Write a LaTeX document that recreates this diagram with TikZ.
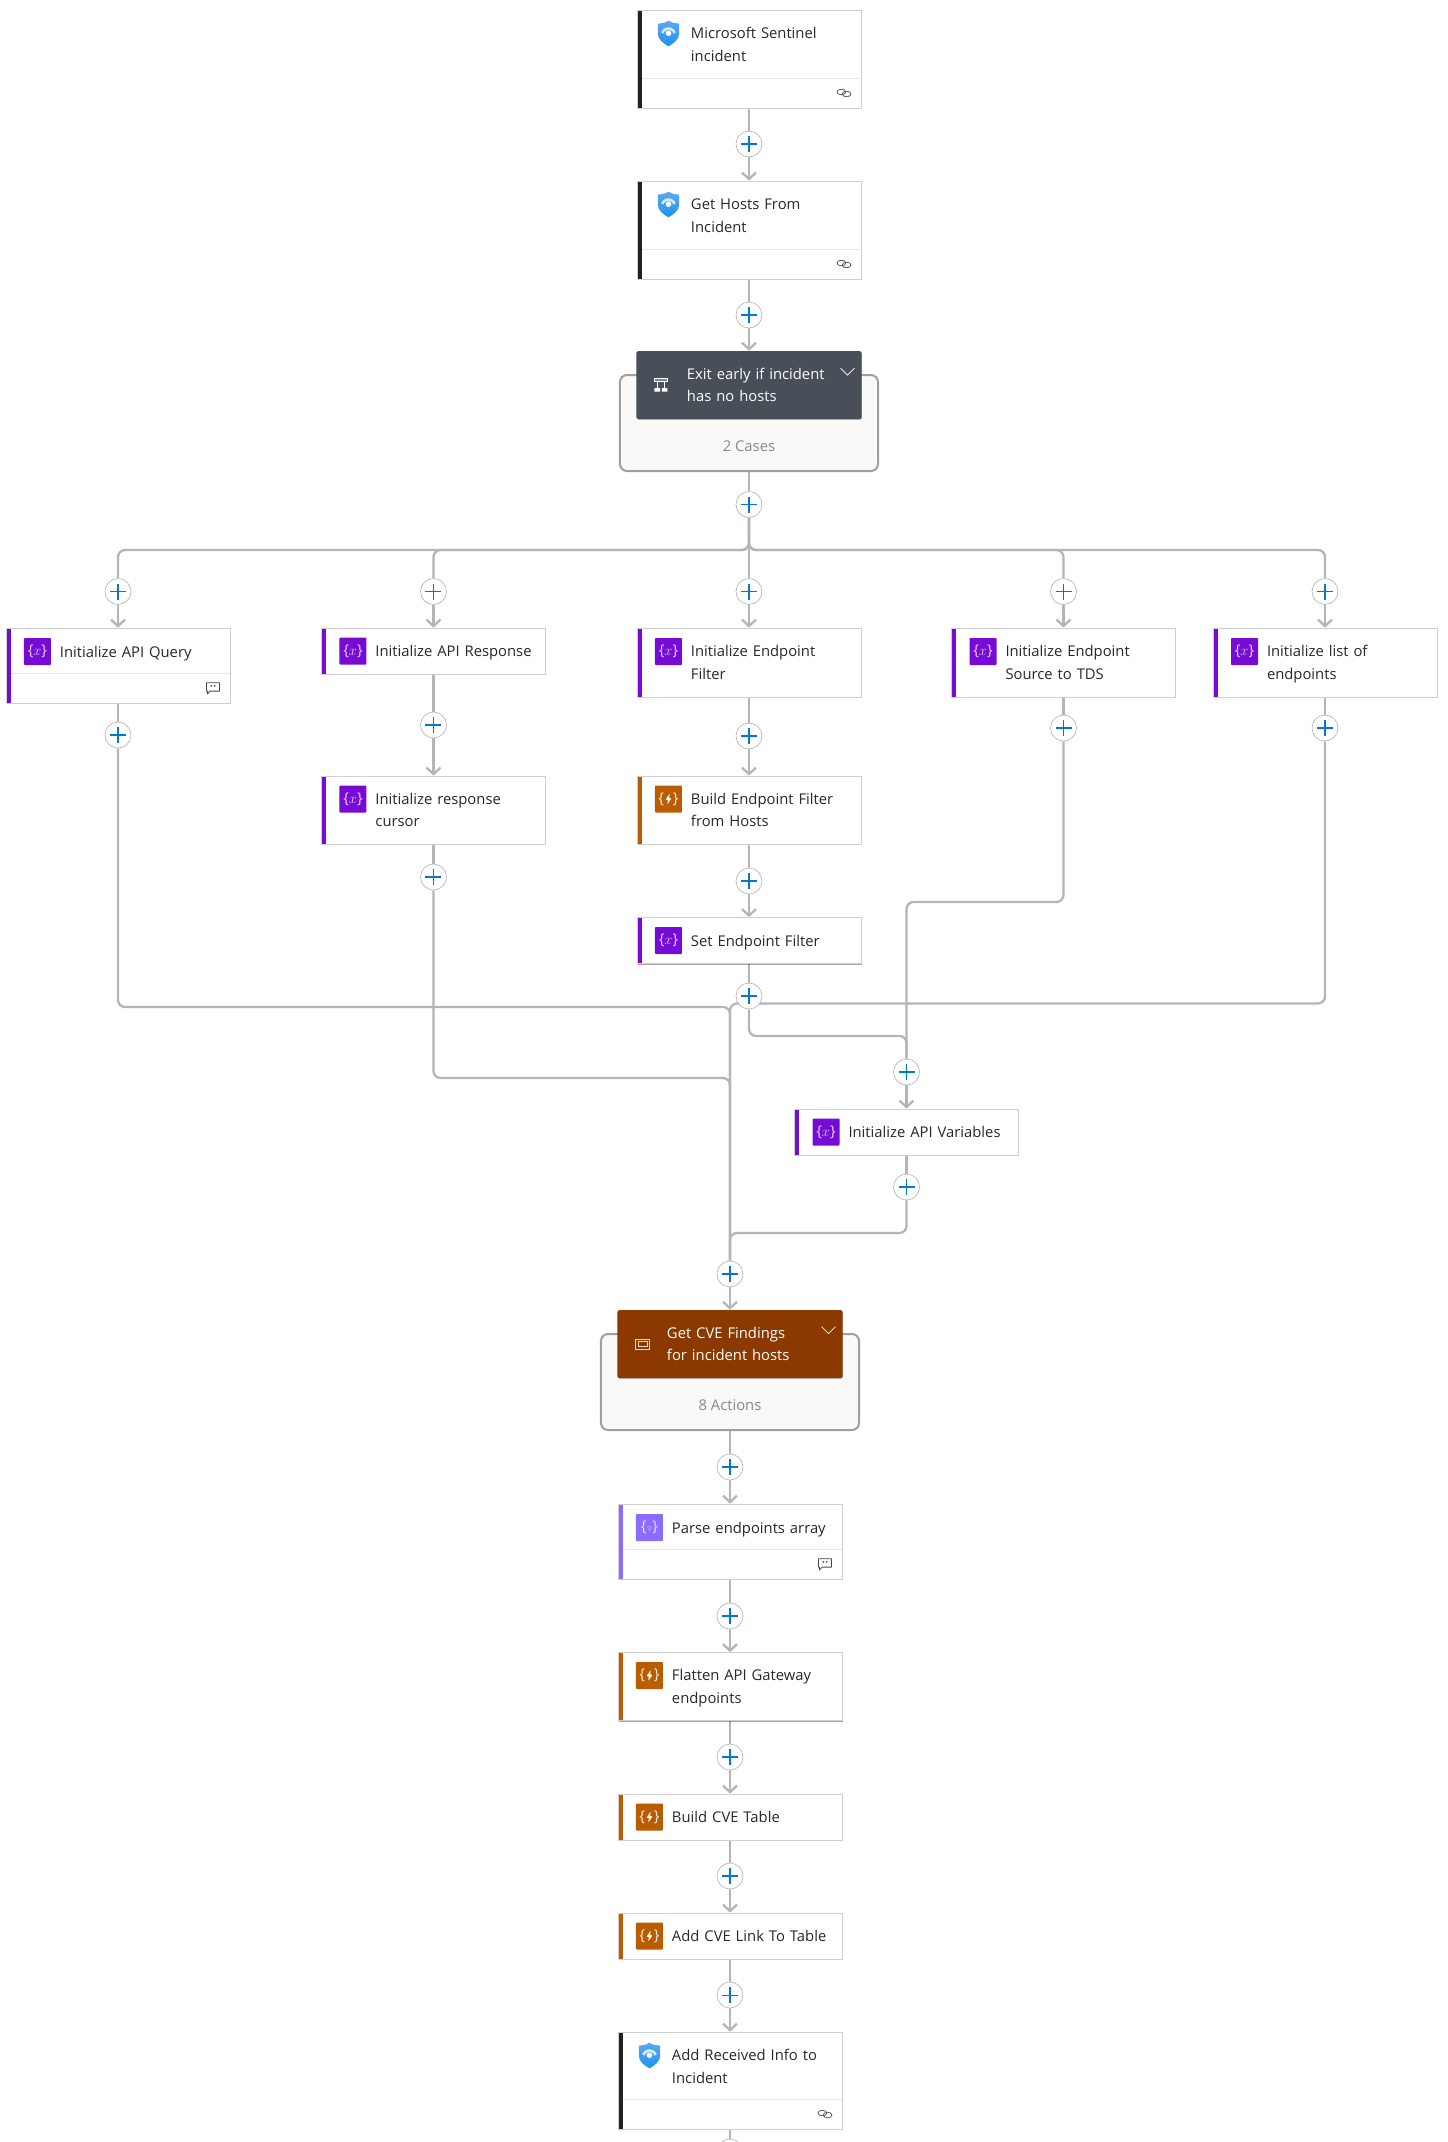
\documentclass[tikz,border=0pt]{standalone}
\usepackage{amsmath, amssymb}
\usepackage{fontspec}
\setmainfont{Open Sans}
\usepackage{xcolor}
\usepackage{tikz}
\usetikzlibrary{arrows.meta, backgrounds, shadows, positioning}
\definecolor{linegray}{HTML}{B4B4B9}
\definecolor{cardline}{HTML}{CFCFCF}
\definecolor{footline}{HTML}{E6E6E6}
\definecolor{boxgray}{HTML}{A19F9D}
\definecolor{boxfill}{HTML}{FAF9F8}
\definecolor{countgray}{HTML}{8A8886}
\definecolor{inkgray}{HTML}{292827}
\definecolor{plusblue}{HTML}{0078D4}
\definecolor{pluscirc}{HTML}{B9B9B9}
\definecolor{sentinelbar}{HTML}{222222}
\definecolor{varpurple}{HTML}{770BD6}
\definecolor{parsepurple}{HTML}{8C6CFF}
\definecolor{codeorange}{HTML}{BA5D00}
\definecolor{casedark}{HTML}{484F58}
\definecolor{scopebrown}{HTML}{8C3900}
\definecolor{shieldtop}{HTML}{5EA9EF}
\definecolor{shieldbot}{HTML}{1B93EB}
\tikzset{
    stripecard/.style = {draw=cardline, fill=white, rectangle, line width=0.7pt, minimum width=224pt,
      inner sep=0pt, node distance=0em, drop shadow={shadow xshift=0.7pt, shadow yshift=-1.1pt, opacity=0.35, fill=black},
      path picture={\fill [#1] (path picture bounding box.north west) rectangle
        ([xshift=4.8pt]path picture bounding box.south west);}},
    footcard/.style = {draw=cardline, fill=white, rectangle, line width=0.7pt, minimum width=224pt,
      inner sep=0pt, node distance=0em, drop shadow={shadow xshift=0.7pt, shadow yshift=-1.1pt, opacity=0.35, fill=black},
      path picture={\draw [footline, line width=1.2pt] ([yshift=29.5pt]path picture bounding box.south west) --
        ([yshift=29.5pt]path picture bounding box.south east);
        \fill [#1] (path picture bounding box.north west) rectangle
        ([xshift=4.8pt]path picture bounding box.south west);}},
    groupnode/.style = {draw=boxgray, fill=boxfill, rectangle, rounded corners=7pt, line width=2pt,
      minimum width=258pt, minimum height=96pt, inner sep=0pt, node distance=0em},
    headnode/.style = {fill=#1, rectangle, rounded corners=1.5pt, minimum width=225pt, minimum height=68pt,
      inner sep=0pt, node distance=0em, drop shadow={shadow xshift=0.4pt, shadow yshift=-0.8pt, opacity=0.25, fill=black}},
    textnode/.style = {draw=none, fill=none, rectangle, text=inkgray, inner sep=0pt, node distance=0em,
      text width=160pt, align=left, font=\fontsize{14.8}{22.5}\selectfont, yshift=-1.2pt,
      execute at begin node=\strut, execute at end node=\strut},
    headtext/.style = {textnode, text=white},
    countnode/.style = {draw=none, fill=none, text=countgray, inner sep=0pt, node distance=0em,
      font=\fontsize{14.8}{22.5}\selectfont},
    varnode/.style = {fill=#1, rectangle, rounded corners=0.8pt, minimum size=27pt, inner sep=0pt, node distance=0em,
      text=white!80!#1, font=\fontsize{15}{16}\selectfont},
    boltnode/.style = {fill=codeorange, rectangle, rounded corners=0.8pt, minimum size=27pt, inner sep=0pt, node distance=0em,
      text=white!88!codeorange, font=\fontsize{15}{16}\selectfont,
      path picture={\fill [white] ([shift={(1.3pt,5.5pt)}]path picture bounding box.center) --
        ([shift={(-3pt,-0.8pt)}]path picture bounding box.center) -- ([shift={(-0.4pt,-0.8pt)}]path picture bounding box.center) --
        ([shift={(-1.3pt,-5.5pt)}]path picture bounding box.center) -- ([shift={(3pt,0.8pt)}]path picture bounding box.center) --
        ([shift={(0.4pt,0.8pt)}]path picture bounding box.center) -- cycle;}},
    shieldnode/.style = {rectangle, minimum size=27pt, inner sep=0pt, node distance=0em,
      path picture={\begin{scope}[shift={(path picture bounding box.center)}, x=1pt, y=1pt]
        \shade [top color=shieldtop, bottom color=shieldbot] (0,12.8) .. controls (3.5,10.6) and (7,10) .. (10.7,9.8) --
          (10.7,0) .. controls (10.7,-6) and (5,-10) .. (0,-12.8) .. controls (-5,-10) and (-10.7,-6) .. (-10.7,0) --
          (-10.7,9.8) .. controls (-7,10) and (-3.5,10.6) .. cycle;
        \draw [white!75!shieldtop, line width=2.6pt] (-6.2,0.6) arc (160:20:6.6);
        \fill [white] (0,0.3) circle (2.8pt);
      \end{scope}}},
    switchnode/.style = {rectangle, minimum size=18pt, inner sep=0pt, node distance=0em,
      path picture={\begin{scope}[shift={(path picture bounding box.center)}, x=1pt, y=1pt, white]
        \draw [line width=0.9pt, fill=white!30!casedark] (-6.5,4) rectangle (6.5,6.5);
        \draw [line width=0.9pt] (-3.5,4) -- (-3.5,-3) (3.5,4) -- (3.5,-3);
        \fill (-6.5,-3) rectangle (-0.8,-6.5) (0.8,-3) rectangle (6.5,-6.5);
      \end{scope}}},
    scopenode/.style = {rectangle, minimum size=18pt, inner sep=0pt, node distance=0em,
      path picture={\begin{scope}[shift={(path picture bounding box.center)}, x=1pt, y=1pt]
        \draw [white!80!scopebrown, line width=0.9pt] (-6.7,-5) rectangle (6.7,5);
        \draw [white!80!scopebrown, line width=0.8pt] (-4.5,-2.6) rectangle (4.5,2.6);
      \end{scope}}},
    chevronnode/.style = {rectangle, minimum size=18pt, inner sep=0pt, node distance=0em,
      path picture={\draw [white, line width=0.7pt] ([shift={(-7pt,3.5pt)}]path picture bounding box.center) --
        ([shift={(0pt,-3.5pt)}]path picture bounding box.center) -- ([shift={(7pt,3.5pt)}]path picture bounding box.center);}},
    linknode/.style = {rectangle, minimum size=18pt, inner sep=0pt, node distance=0em,
      path picture={\begin{scope}[shift={(path picture bounding box.center)}, x=1pt, y=1pt]
        \draw [inkgray!80, line width=0.75pt, rotate=20] (-2.6,1) ellipse (4.4pt and 2.8pt);
        \draw [inkgray!80, line width=0.75pt, rotate=20] (2.6,-1) ellipse (4.4pt and 2.8pt);
      \end{scope}}},
    notenode/.style = {rectangle, minimum size=18pt, inner sep=0pt, node distance=0em,
      path picture={\begin{scope}[shift={(path picture bounding box.center)}, x=1pt, y=1pt]
        \draw [inkgray!85, line width=0.8pt, line join=round] (-6.5,4.8) -- (6.5,4.8) -- (6.5,-3.6) -- (-2.8,-3.6) --
          (-5.6,-6.4) -- (-5.6,-3.6) -- (-6.5,-3.6) -- cycle;
        \fill [inkgray!85] (-2.3,0.8) rectangle (-1,2.3) (1,0.8) rectangle (2.3,2.3);
      \end{scope}}},
    plusnode/.style = {draw=pluscirc, fill=white, circle, line width=0.7pt, minimum size=26pt, inner sep=0pt, node distance=0em,
      path picture={\draw [plusblue, line width=1.05pt] ([xshift=-8pt]path picture bounding box.center) --
        ([xshift=8pt]path picture bounding box.center) ([yshift=-8pt]path picture bounding box.center) --
        ([yshift=8pt]path picture bounding box.center);}},
    flowline/.style = {linegray, line width=2.3pt},
    bendline/.style = {flowline, rounded corners=7pt},
    connect/.style = {flowline, ->, >={Straight Barb[length=6.5pt, width=14pt]}}
}
\begin{document}
\begin{tikzpicture}[node distance=0pt]
    \useasboundingbox (-749pt,59pt) rectangle (699pt,-2083pt);

    % top of the flow
    \node [name=incident, footcard=sentinelbar, minimum height=98pt] {};
    \node [name=incidenticon, shieldnode, right of = incident, xshift=-80.5pt, yshift=25.5pt] {};
    \node [name=incidenttxt, textnode, right of = incidenticon, xshift=102.5pt, yshift=-11pt] {Microsoft Sentinel\\incident};
    \node [name=incidentlink, linknode, right of = incident, xshift=95pt, yshift=-34pt] {};
    \node [name=plusa, plusnode, below of = incident, yshift=-85pt] {};

    \node [name=hosts, footcard=sentinelbar, minimum height=98pt, below of = plusa, yshift=-86pt] {};
    \node [name=hostsicon, shieldnode, right of = hosts, xshift=-80.5pt, yshift=25.5pt] {};
    \node [name=hoststxt, textnode, right of = hostsicon, xshift=102.5pt, yshift=-11pt] {Get Hosts From\\Incident};
    \node [name=hostslink, linknode, right of = hosts, xshift=95pt, yshift=-34pt] {};
    \node [name=plusb, plusnode, below of = hosts, yshift=-85pt] {};

    \node [name=exitgroup, groupnode, below of = plusb, yshift=-108pt] {};
    \node [name=exithead, headnode=casedark, above of = exitgroup, yshift=38pt] {};
    \node [name=exiticon, switchnode, right of = exithead, xshift=-88pt] {};
    \node [name=exittxt, headtext, right of = exithead, xshift=18pt] {Exit early if incident\\has no hosts};
    \node [name=exitmore, chevronnode, right of = exithead, xshift=98.5pt, yshift=13.5pt] {};
    \node [name=exitcount, countnode, below of = exitgroup, yshift=-23pt] {2 Cases};
    \node [name=plusc, plusnode, below of = exitgroup, yshift=-81.5pt] {};
    \node [name=fork, coordinate, below of = plusc, yshift=-45.5pt] {};

    % five parallel branches
    \node [name=plusq, plusnode, below of = plusc, xshift=-631pt, yshift=-87pt] {};
    \node [name=plusr, plusnode, below of = plusc, xshift=-315.5pt, yshift=-87pt] {};
    \node [name=plusf, plusnode, below of = plusc, yshift=-87pt] {};
    \node [name=plust, plusnode, below of = plusc, xshift=314.5pt, yshift=-87pt] {};
    \node [name=plusl, plusnode, below of = plusc, xshift=576pt, yshift=-87pt] {};

    \node [name=query, footcard=varpurple, minimum height=75pt, below of = plusq, yshift=-74pt] {};
    \node [name=queryicon, varnode=varpurple, right of = query, xshift=-80.5pt, yshift=14pt] {\{$x$\}};
    \node [name=querytxt, textnode, right of = queryicon, xshift=102.5pt] {Initialize API Query};
    \node [name=querynote, notenode, right of = query, xshift=95pt, yshift=-22pt] {};
    \node [name=plusqq, plusnode, below of = query, yshift=-69.5pt] {};

    \node [name=resp, stripecard=varpurple, minimum height=46pt, below of = plusr, yshift=-59.5pt] {};
    \node [name=respicon, varnode=varpurple, right of = resp, xshift=-80.5pt] {\{$x$\}};
    \node [name=resptxt, textnode, right of = respicon, xshift=102.5pt] {Initialize API Response};
    \node [name=plusrr, plusnode, below of = resp, yshift=-74pt] {};
    \node [name=cursor, stripecard=varpurple, minimum height=68pt, below of = plusrr, yshift=-85pt] {};
    \node [name=cursoricon, varnode=varpurple, right of = cursor, xshift=-80.5pt, yshift=11pt] {\{$x$\}};
    \node [name=cursortxt, textnode, right of = cursoricon, xshift=102.5pt, yshift=-11pt] {Initialize response\\cursor};
    \node [name=pluscc, plusnode, below of = cursor, yshift=-67pt] {};

    \node [name=filter, stripecard=varpurple, minimum height=69pt, below of = plusf, yshift=-71pt] {};
    \node [name=filtericon, varnode=varpurple, right of = filter, xshift=-80.5pt, yshift=11pt] {\{$x$\}};
    \node [name=filtertxt, textnode, right of = filtericon, xshift=102.5pt, yshift=-11pt] {Initialize Endpoint\\Filter};
    \node [name=plusff, plusnode, below of = filter, yshift=-73.5pt] {};
    \node [name=buildf, stripecard=codeorange, minimum height=68pt, below of = plusff, yshift=-74pt] {};
    \node [name=buildficon, boltnode, right of = buildf, xshift=-80.5pt, yshift=11pt] {\{\hspace{9pt}\}};
    \node [name=buildftxt, textnode, right of = buildficon, xshift=102.5pt, yshift=-11pt] {Build Endpoint Filter\\from Hosts};
    \node [name=plusbf, plusnode, below of = buildf, yshift=-71pt] {};
    \node [name=setf, stripecard=varpurple, minimum height=46pt, below of = plusbf, yshift=-59.5pt] {};
    \node [name=setficon, varnode=varpurple, right of = setf, xshift=-80.5pt] {\{$x$\}};
    \node [name=setftxt, textnode, right of = setficon, xshift=102.5pt] {Set Endpoint Filter};
    \node [name=pluss, plusnode, below of = setf, yshift=-55.5pt] {};

    \node [name=tds, stripecard=varpurple, minimum height=69pt, below of = plust, yshift=-71pt] {};
    \node [name=tdsicon, varnode=varpurple, right of = tds, xshift=-80.5pt, yshift=11pt] {\{$x$\}};
    \node [name=tdstxt, textnode, right of = tdsicon, xshift=102.5pt, yshift=-11pt] {Initialize Endpoint\\Source to TDS};
    \node [name=plustt, plusnode, below of = tds, yshift=-65.5pt] {};

    \node [name=list, stripecard=varpurple, minimum height=69pt, below of = plusl, yshift=-71pt] {};
    \node [name=listicon, varnode=varpurple, right of = list, xshift=-80.5pt, yshift=11pt] {\{$x$\}};
    \node [name=listtxt, textnode, right of = listicon, xshift=102.5pt, yshift=-11pt] {Initialize list of\\endpoints};
    \node [name=plusll, plusnode, below of = list, yshift=-65.5pt] {};

    % the variables step and the bends around it
    \node [name=plusv, plusnode, below of = pluss, xshift=157.5pt, yshift=-76pt] {};
    \node [name=vars, stripecard=varpurple, minimum height=46pt, below of = plusv, yshift=-60pt] {};
    \node [name=varsicon, varnode=varpurple, right of = vars, xshift=-80.5pt] {\{$x$\}};
    \node [name=varstxt, textnode, right of = varsicon, xshift=102.5pt] {Initialize API Variables};
    \node [name=plusvv, plusnode, below of = vars, yshift=-55pt] {};

    \node [name=sfrom, coordinate, below of = pluss, yshift=-7.5pt] {};
    \node [name=sleft, coordinate, below of = pluss, xshift=-19pt, yshift=-7.5pt] {};
    \node [name=sright, coordinate, below of = pluss, xshift=576pt, yshift=-7.5pt] {};
    \node [name=qjoin, coordinate, below of = pluss, xshift=-19pt, yshift=-11pt] {};
    \node [name=cjoin, coordinate, below of = pluss, xshift=-19pt, yshift=-82pt] {};
    \node [name=vjoin, coordinate, below of = pluss, xshift=157.5pt, yshift=-40pt] {};
    \node [name=tjoin, coordinate, above of = pluss, xshift=157.5pt, yshift=94pt] {};
    \node [name=ujoin, coordinate, below of = plusvv, xshift=-176.5pt, yshift=-46pt] {};

    % loop and the steps below it
    \node [name=plusg, plusnode, below of = pluss, xshift=-19pt, yshift=-278pt] {};
    \node [name=getgroup, groupnode, below of = plusg, yshift=-108pt] {};
    \node [name=gethead, headnode=scopebrown, above of = getgroup, yshift=38pt] {};
    \node [name=geticon, scopenode, right of = gethead, xshift=-87.5pt] {};
    \node [name=gettxt, headtext, right of = gethead, xshift=17pt] {Get CVE Findings\\for incident hosts};
    \node [name=getmore, chevronnode, right of = gethead, xshift=98.5pt, yshift=14pt] {};
    \node [name=getcount, countnode, below of = getgroup, yshift=-23pt] {8 Actions};
    \node [name=plush, plusnode, below of = getgroup, yshift=-85pt] {};

    \node [name=parse, footcard=parsepurple, minimum height=75pt, below of = plush, yshift=-74.5pt] {};
    \node [name=parseicon, varnode=parsepurple, right of = parse, xshift=-80.5pt, yshift=14pt] {\{$\scriptscriptstyle\triangledown$\}};
    \node [name=parsetxt, textnode, right of = parseicon, xshift=102.5pt] {Parse endpoints array};
    \node [name=parsenote, notenode, right of = parse, xshift=95pt, yshift=-22pt] {};
    \node [name=plusp, plusnode, below of = parse, yshift=-74.5pt] {};

    \node [name=flatten, stripecard=codeorange, minimum height=68pt, below of = plusp, yshift=-70.5pt] {};
    \node [name=flattenicon, boltnode, right of = flatten, xshift=-80.5pt, yshift=11pt] {\{\hspace{9pt}\}};
    \node [name=flattentxt, textnode, right of = flattenicon, xshift=102.5pt, yshift=-11pt] {Flatten API Gateway\\endpoints};
    \node [name=plusi, plusnode, below of = flatten, yshift=-70.5pt] {};

    \node [name=buildt, stripecard=codeorange, minimum height=46pt, below of = plusi, yshift=-60pt] {};
    \node [name=buildticon, boltnode, right of = buildt, xshift=-80.5pt] {\{\hspace{9pt}\}};
    \node [name=buildttxt, textnode, right of = buildticon, xshift=102.5pt] {Build CVE Table};
    \node [name=plusj, plusnode, below of = buildt, yshift=-59pt] {};

    \node [name=addlink, stripecard=codeorange, minimum height=46pt, below of = plusj, yshift=-60pt] {};
    \node [name=addlinkicon, boltnode, right of = addlink, xshift=-80.5pt] {\{\hspace{9pt}\}};
    \node [name=addlinktxt, textnode, right of = addlinkicon, xshift=102.5pt] {Add CVE Link To Table};
    \node [name=plusk, plusnode, below of = addlink, yshift=-59pt] {};

    \node [name=received, footcard=sentinelbar, minimum height=97pt, below of = plusk, yshift=-85.5pt] {};
    \node [name=receivedicon, shieldnode, right of = received, xshift=-80.5pt, yshift=25pt] {};
    \node [name=receivedtxt, textnode, right of = receivedicon, xshift=102.5pt, yshift=-11pt] {Add Received Info to\\Incident};
    \node [name=receivedlink, linknode, right of = received, xshift=95pt, yshift=-33.5pt] {};
    \node [name=plusm, plusnode, below of = received, yshift=-71.5pt] {};

    \begin{scope}[on background layer]
        \draw [flowline] (incident) -- (plusa);
        \draw [connect] (plusa) -- (hosts);
        \draw [flowline] (hosts) -- (plusb);
        \draw [connect] (plusb) -- (exithead);
        \draw [flowline] (exitgroup) -- (plusc);

        \draw [bendline] (plusc) |- (fork -| plusq) -- (plusq);
        \draw [bendline] (plusc) |- (fork -| plusr) -- (plusr);
        \draw [flowline] (plusc) -- (plusf);
        \draw [bendline] (plusc) |- (fork -| plust) -- (plust);
        \draw [bendline] (plusc) |- (fork -| plusl) -- (plusl);

        \draw [connect] (plusq) -- (query);
        \draw [connect] (plusr) -- (resp);
        \draw [connect] (plusf) -- (filter);
        \draw [connect] (plust) -- (tds);
        \draw [connect] (plusl) -- (list);

        \draw [flowline] (query) -- (plusqq);
        \draw [flowline] (resp) -- (plusrr);
        \draw [connect] (plusrr) -- (cursor);
        \draw [flowline] (cursor) -- (pluscc);
        \draw [flowline] (filter) -- (plusff);
        \draw [connect] (plusff) -- (buildf);
        \draw [flowline] (buildf) -- (plusbf);
        \draw [connect] (plusbf) -- (setf);
        \draw [flowline] (setf) -- (pluss);
        \draw [flowline] (tds) -- (plustt);
        \draw [flowline] (list) -- (plusll);

        \draw [bendline] (plusqq) |- (qjoin) -- (plusg);
        \draw [bendline] (pluscc) |- (cjoin) -- (plusg);
        \draw [bendline] (sfrom) -- (sleft) -- (plusg);
        \draw [bendline] (sfrom) -- (sright) -- (plusll);
        \draw [bendline] (pluss) |- (vjoin) -- (plusv);
        \draw [bendline] (plustt) |- (tjoin) -- (plusv);
        \draw [connect] (plusv) -- (vars);
        \draw [flowline] (vars) -- (plusvv);
        \draw [bendline] (plusvv) |- (ujoin) -- (plusg);

        \draw [connect] (plusg) -- (gethead);
        \draw [flowline] (getgroup) -- (plush);
        \draw [connect] (plush) -- (parse);
        \draw [flowline] (parse) -- (plusp);
        \draw [connect] (plusp) -- (flatten);
        \draw [flowline] (flatten) -- (plusi);
        \draw [connect] (plusi) -- (buildt);
        \draw [flowline] (buildt) -- (plusj);
        \draw [connect] (plusj) -- (addlink);
        \draw [flowline] (addlink) -- (plusk);
        \draw [connect] (plusk) -- (received);
        \draw [flowline] (received) -- (plusm);
    \end{scope}
\end{tikzpicture}
\end{document}
